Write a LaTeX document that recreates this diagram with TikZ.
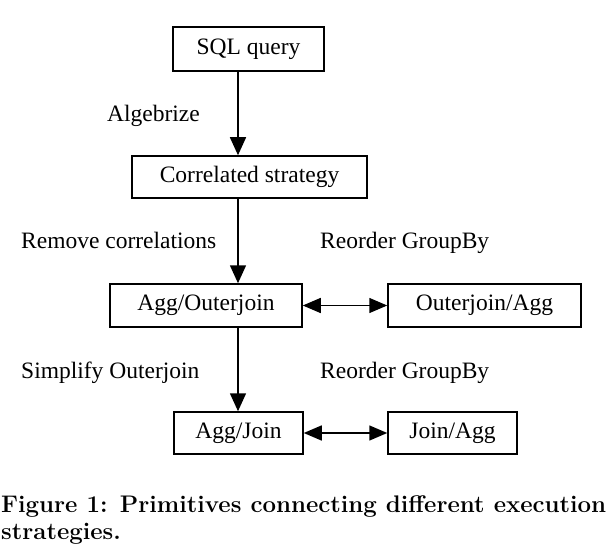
\documentclass[tikz,border=0pt]{standalone}
\usepackage{fontspec}
\newfontfamily\tnr{Liberation Serif}
\usetikzlibrary{arrows.meta}
\begin{document}
\begin{tikzpicture}[x=1pt,y=-1pt,
  box/.style={draw,line width=1.5pt,inner sep=0pt,font=\tnr\fontsize{23.5}{28}\selectfont},
  lbl/.style={inner sep=0pt,anchor=base west,font=\tnr\fontsize{23.5}{28}\selectfont},
  arr/.style={line width=1.5pt,-{Triangle[length=18pt,width=16pt]}},
  darr/.style={line width=1.5pt,{Triangle[length=18pt,width=15pt]}-{Triangle[length=18pt,width=15pt]}}]
\useasboundingbox (0,0) rectangle (607,548);
\node[box,minimum width=151pt,minimum height=44pt] (sql) at (248.5,49) {SQL query};
\node[box,minimum width=235pt,minimum height=42pt] (corr) at (249.5,177) {Correlated strategy};
\node[box,minimum width=192pt,minimum height=43pt] (ao) at (206,305.5) {Agg/Outerjoin};
\node[box,minimum width=193pt,minimum height=43pt] (oa) at (484.5,305.5) {Outerjoin/Agg};
\node[box,minimum width=129pt,minimum height=42pt] (aj) at (238.5,433) {Agg/Join};
\node[box,minimum width=129pt,minimum height=42pt] (ja) at (452.5,433) {Join/Agg};
\coordinate (ax) at (238,0);
\draw[arr] (sql.south -| ax) -- (corr.north -| ax);
\draw[arr] (corr.south -| ax) -- (ao.north -| ax);
\draw[arr] (ao.south -| ax) -- (aj.north -| ax);
\draw[darr] (ao.east) -- (oa.west);
\draw[darr] (aj.east) -- (ja.west);
\node[lbl] (l1) at (107,122) {Algebrize};
\node[lbl] (l2) at (21,248) {Remove correlations};
\node[lbl] (l3) at (320,248) {Reorder GroupBy};
\node[lbl] (l4) at (21,378) {Simplify Outerjoin};
\node[lbl] (l5) at (320,378) {Reorder GroupBy};
\node[inner sep=0pt,anchor=base west,text width=605pt,align=justify,font=\bfseries\fontsize{24}{27}\selectfont] (cap) at (1,512)
  {Figure 1: Primitives connecting different execution\linebreak strategies.};
\end{tikzpicture}
\end{document}
